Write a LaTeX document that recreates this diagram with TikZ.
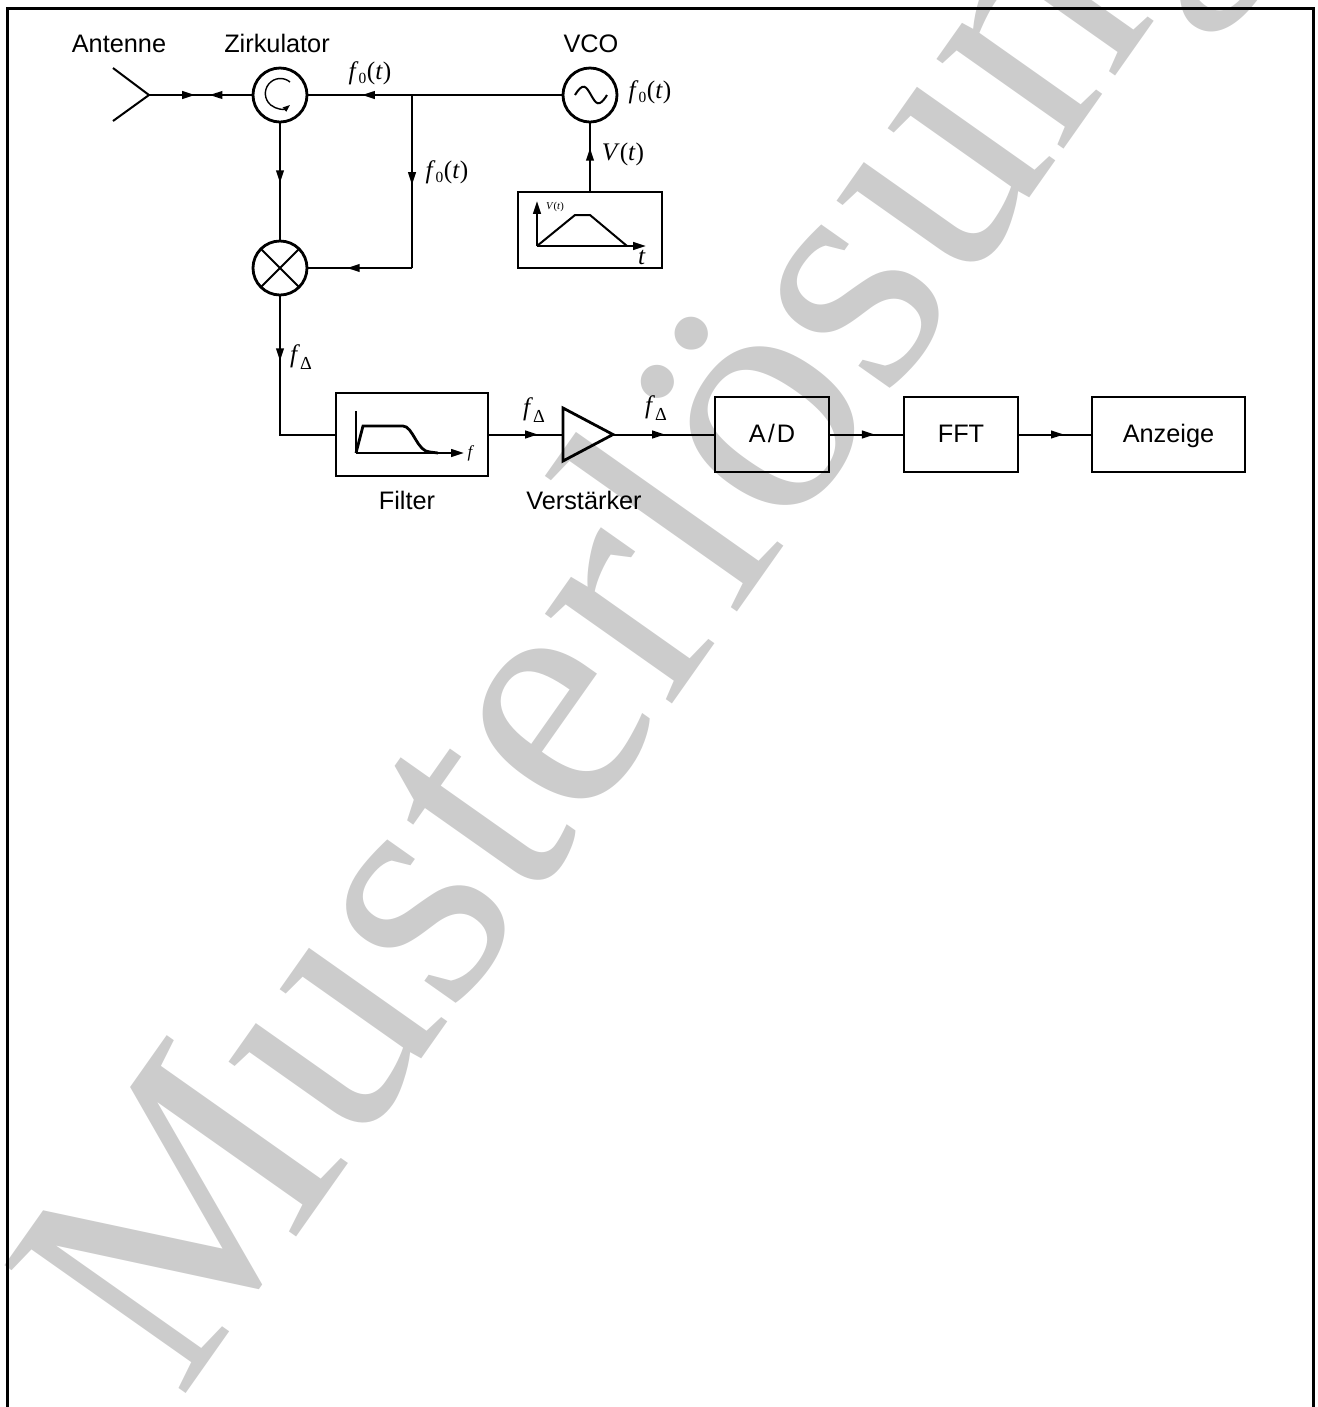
\documentclass[tikz,border=0pt]{standalone}
\usepackage{fontspec}
\setmainfont{Liberation Sans}
\newfontfamily\formelfont{Liberation Serif}
\usetikzlibrary{arrows.meta,decorations.markings}
\definecolor{cMark}{HTML}{CCCCCC}
\newcommand{\fnull}{\textit{f}\raisebox{-.35ex}{\fontsize{11}{11}\selectfont 0}\kern.5pt(\textit{t})}
\newcommand{\fdelta}{\textit{f}\raisebox{-.6ex}{\fontsize{13}{13}\selectfont Δ}}
\tikzset{
  wire/.style ={draw=black,line width=0.5mm},
  fat/.style  ={draw=black,line width=0.7mm},
  thin/.style ={draw=black,line width=0.35mm},
  blk/.style  ={fat,minimum height=18.75mm,align=center,inner sep=0pt,outer sep=0pt,
                text height=5mm,text depth=0.8mm,font=\fontsize{18}{20}\selectfont},
  rnd/.style  ={fat,circle,minimum size=13.5mm,inner sep=0pt,outer sep=0pt},
  lbl/.style  ={text height=5mm,text depth=0.8mm,font=\fontsize{18}{20}\selectfont,inner sep=0pt},
  sym/.style  ={font=\fontsize{18}{20}\selectfont\formelfont,inner sep=0pt},
  flow/.style ={postaction=decorate,decoration={markings,
                mark=at position #1 with {\arrow{Stealth[length=3.2mm,width=1.9mm,inset=0pt]}}}},
  sig/.style  ={-{Stealth[length=3.2mm,width=1.9mm,inset=0pt]}},
}

\begin{document}
\begin{tikzpicture}[x=0.25mm,y=0.25mm]
\useasboundingbox (0,0) rectangle (1318,-1407);
\clip (0,0) rectangle (1318,-1407);

% ---- watermark -----------------------------------------------------------
\node[anchor=base west,rotate=54.8,inner sep=0pt,text=cMark,
      font=\fontsize{241}{241}\selectfont\formelfont] (muster) at (180,-1402) {Musterlösung};

% ---- frame ---------------------------------------------------------------
\draw[line width=0.75mm] (7,-1420) -- (7,-8) -- (1313,-8) -- (1313,-1420);

% ---- upper row -----------------------------------------------------------
\coordinate (ant)  at (149,-95);
\coordinate (antU) at (113,-68);
\coordinate (antD) at (113,-121);
\coordinate (mid)  at (202.5,-95);
\node[rnd] (zirk) at (280,-95) {};
\node[rnd] (vco)  at (590,-95) {};
\node[rnd] (mix)  at (280,-268) {};
\coordinate (abzw) at (412,-95);
\coordinate (ecke) at (412,-268);
\node[blk,minimum width=36mm,minimum height=19mm] (rampe) at (590,-230) {};

\draw[wire] (antU) -- (ant) -- (antD);
\draw[wire,flow=.86] (ant) -- (mid);
\draw[wire,flow=.86] (zirk) -- (mid);
\draw[wire] (vco) -- (abzw);
\draw[wire,flow=.476] (abzw) -- (zirk);
\draw[wire,flow=.52] (abzw) -- (ecke);
\draw[wire,flow=.62] (ecke) -- (mix);
\draw[wire,flow=.513] (zirk) -- (mix);
\draw[wire,flow=.63] (rampe) -- (vco);

% inner symbols
\draw[thin,-{Stealth[length=1.8mm,width=1.3mm,inset=0pt]}] (290,-82) arc[start angle=50,end angle=310,radius=15];
\draw[wire] (mix.45) -- (mix.225) (mix.135) -- (mix.315);
\draw[wire] (575,-95) .. controls (583,-82) and (586,-86) .. (591,-95)
                      .. controls (596,-104) and (599,-108) .. (607,-95);

% ramp sketch
\coordinate (rO) at (537,-246);
\draw[wire,sig] (rO) -- (537,-201);
\draw[wire,sig] (rO) -- (646,-246);
\draw[wire] (rO) -- (575,-215) -- (590,-215) -- (627,-246);
\node[sym,font=\fontsize{7.5}{8}\selectfont\formelfont] (rV) at (555,-207) {\textit{V}(\textit{t})};
\node[sym] (rT) at (642,-257) {\textit{t}};

% ---- lower row -----------------------------------------------------------
\node[blk,minimum width=38mm,minimum height=20.75mm] (filter) at (412,-434.5) {};
\coordinate (ampO) at (563,-408);
\coordinate (ampU) at (563,-461);
\coordinate (amp)  at (613,-434.5);
\coordinate (ampE) at (563,-434.5);
\coordinate (knick) at (280,-434.5);
\node[blk,minimum width=28.5mm] (ad)  at (772,-434.5) {A\kern1.5pt/\kern1.5pt D};
\node[blk,minimum width=28.5mm] (fft) at (961,-434.5) {FFT};
\node[blk,minimum width=38.25mm] (anz) at (1168.5,-434.5) {Anzeige};

\draw[fat] (ampO) -- (ampU) -- (amp) -- cycle;
\draw[wire,flow=.338] (mix) -- (knick) -- (filter);
\draw[wire,flow=.667] (filter) -- (ampE);
\draw[wire,flow=.51] (amp) -- (ad);
\draw[wire,flow=.61] (ad) -- (fft);
\draw[wire,flow=.62] (fft) -- (anz);

% filter sketch
\coordinate (fO) at (356,-453);
\draw[thin] (fO) -- (356,-411);
\draw[wire,sig] (fO) -- (464,-453);
\draw[fat] (fO) -- (363,-426) -- (403,-426)
   .. controls (413,-426) and (417,-452) .. (430,-452) -- (438,-453);

% ---- labels --------------------------------------------------------------
\node[lbl] (tAnt)  at (119,-44) {Antenne};
\node[lbl] (tZirk) at (277,-44) {Zirkulator};
\node[lbl] (tVco)  at (591,-44) {VCO};
\node[lbl] (tFil)  at (407,-501) {Filter};
\node[lbl] (tAmp)  at (584,-501) {Verstärker};
\node[sym] (f1) at (370,-73) {\fnull};
\node[sym] (f2) at (447,-172) {\fnull};
\node[sym] (f3) at (650,-92) {\fnull};
\node[sym] (vt) at (623,-154) {\textit{V}(\textit{t})};
\node[sym] (d1) at (301,-357) {\fdelta};
\node[sym] (d2) at (534,-410) {\fdelta};
\node[sym] (d3) at (656,-408) {\fdelta};
\node[sym,font=\fontsize{12}{12}\selectfont\formelfont] (fF) at (471,-453) {\textit{f}};
\end{tikzpicture}
\end{document}
